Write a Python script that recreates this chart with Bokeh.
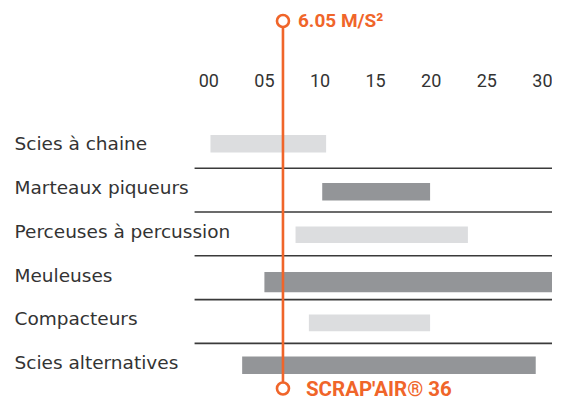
from bokeh.plotting import figure
from bokeh.models import Range1d, ColumnDataSource
from bokeh.core.properties import value
from bokeh.embed import file_html
from bokeh.resources import INLINE

# ---------------- data ----------------
categories = ["Scies à chaine", "Marteaux piqueurs", "Perceuses à percussion",
              "Meuleuses", "Compacteurs", "Scies alternatives"]
range_low = [0.15, 10.2, 7.8, 5.0, 9.0, 3.0]
range_high = [10.55, 19.9, 23.3, 33.0, 19.9, 29.4]
tick_values = [0, 5, 10, 15, 20, 25, 30]
tick_labels = ["00", "05", "10", "15", "20", "25", "30"]
scrap_air_position = 6.67
scrap_air_label = "6.05 M/S²"
product_label = "SCRAP'AIR® 36"

# ---------------- styles / layout ----------------
W, H = 552, 401
PX_PER_UNIT = 11.12
ZERO_PX = 208.3
ROW_PX = 43.8
FIRST_ROW_PX = 145.8
LIGHT, DARK = "#dcdddf", "#939598"
ORANGE = "#f0652a"
TEXT = "#333333"
LABEL_FONT = "DejaVu Sans"
TICK_FONT = "Roboto"
BOLD_FONT = "Roboto"
bar_colors = [LIGHT, DARK, LIGHT, DARK, LIGHT, DARK]
bar_heights = [0.40, 0.40, 0.38, 0.46, 0.38, 0.40]
bar_nudge = [-0.06, 0.04, 0.02, 0.10, 0.03, 0.0]

x_start = -ZERO_PX / PX_PER_UNIT
x_end = (W - ZERO_PX) / PX_PER_UNIT
y_top = -FIRST_ROW_PX / ROW_PX
y_bottom = (H - FIRST_ROW_PX) / ROW_PX

p = figure(width=W, height=H,
           x_range=Range1d(x_start, x_end), y_range=Range1d(y_bottom, y_top),
           output_backend="svg", toolbar_location=None,
           x_axis_location=None, y_axis_location=None,
           min_border=0, outline_line_color=None,
           background_fill_color="white", border_fill_color="white")
p.xgrid.visible = False
p.ygrid.visible = False

rows = list(range(len(categories)))

# separators between rows
sep_rows = [r + 0.5 for r in rows[:-1]]
p.segment(x0=[-1.28] * len(sep_rows), x1=[x_end + 1] * len(sep_rows),
          y0=sep_rows, y1=sep_rows, line_color="#3a3a3a", line_width=1.6)

# bars
bars = ColumnDataSource(dict(
    y=[r + n for r, n in zip(rows, bar_nudge)],
    left=range_low, right=range_high, h=bar_heights, color=bar_colors))
p.hbar(y="y", left="left", right="right", height="h", fill_color="color",
       line_color=None, source=bars)

# category labels
p.text(x=[x_start] * len(rows), y=[r - 0.06 for r in rows], text=categories,
       x_offset=14, text_align="left", text_baseline="middle",
       text_font=value(LABEL_FONT), text_font_size="18.5px", text_color=TEXT)

# tick labels
p.text(x=tick_values, y=[-1.5] * len(tick_values), text=tick_labels,
       text_align="center", text_baseline="middle",
       text_font=value(TICK_FONT), text_font_size="18px", text_color=TEXT)

# Scrap'Air marker line
top_y, bot_y = -2.861, 5.53
p.segment(x0=[scrap_air_position], x1=[scrap_air_position], y0=[top_y], y1=[bot_y],
          line_color=ORANGE, line_width=2.6)
p.scatter(x=[scrap_air_position] * 2, y=[top_y, bot_y], size=12, marker="circle",
          fill_color="white", line_color=ORANGE, line_width=2.6)
p.text(x=[scrap_air_position], y=[top_y], text=[scrap_air_label], x_offset=15,
       text_align="left", text_baseline="middle", text_font=value(BOLD_FONT),
       text_font_size="19px", text_font_style="bold", text_color=ORANGE)
p.text(x=[scrap_air_position], y=[bot_y], text=[product_label], x_offset=23,
       text_align="left", text_baseline="middle", text_font=value(BOLD_FONT),
       text_font_size="20.5px", text_font_style="bold", text_color=ORANGE)

open("out.html", "w").write(file_html(p, INLINE))
